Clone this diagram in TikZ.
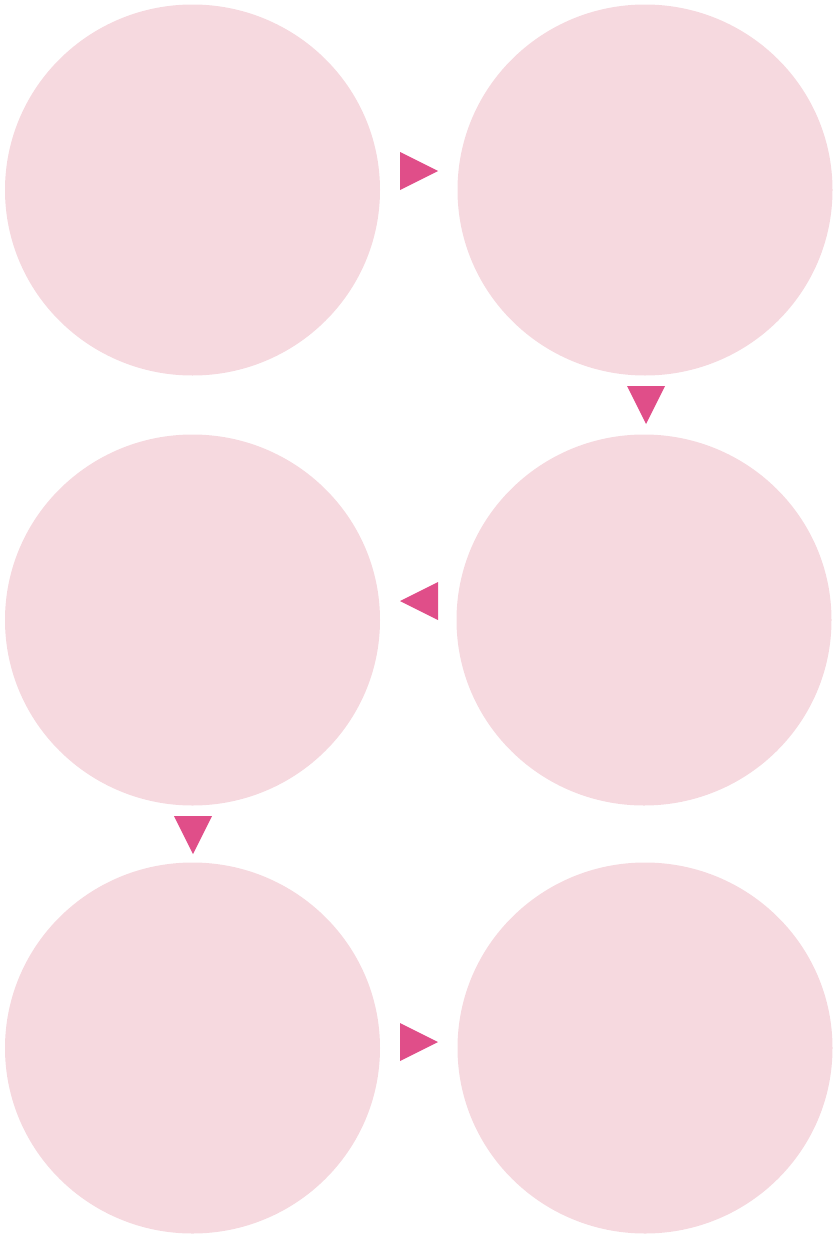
\documentclass[tikz,border=0pt]{standalone}
\usepackage{tikz}
\usetikzlibrary{calc,shapes.geometric}
\definecolor{blobpink}{HTML}{F6D9DF}
\definecolor{tippink}{HTML}{E04E89}

\begin{document}
\begin{tikzpicture}[x=1pt, y=-1pt,
  stage/.style={ellipse, fill=blobpink, draw=none, minimum width=375pt, minimum height=371pt, inner sep=0pt},
  tip/.style={fill=tippink}]

\useasboundingbox (0,0) rectangle (838,1234);

% the six stages
\node[stage] (s1) at (192.5, 190) {};
\node[stage] (s2) at (645, 190) {};
\node[stage] (s3) at (644, 620) {};
\node[stage] (s4) at (192.5, 620) {};
\node[stage] (s5) at (192.5, 1048) {};
\node[stage] (s6) at (645, 1048) {};

% arrow heads between the stages
\coordinate (m12) at (419, 171);
\coordinate (m23) at (646, 405);
\coordinate (m34) at (419, 601);
\coordinate (m45) at (193, 835);
\coordinate (m56) at (419, 1042);

\fill[tip] ($(m12)+(-19,-19)$) -- ($(m12)+(19,0)$) -- ($(m12)+(-19,19)$) -- cycle;
\fill[tip] ($(m23)+(-19,-19)$) -- ($(m23)+(19,-19)$) -- ($(m23)+(0,19)$) -- cycle;
\fill[tip] ($(m34)+(19,-19)$) -- ($(m34)+(-19,0)$) -- ($(m34)+(19,19)$) -- cycle;
\fill[tip] ($(m45)+(-19,-19)$) -- ($(m45)+(19,-19)$) -- ($(m45)+(0,19)$) -- cycle;
\fill[tip] ($(m56)+(-19,-19)$) -- ($(m56)+(19,0)$) -- ($(m56)+(-19,19)$) -- cycle;

\end{tikzpicture}
\end{document}
